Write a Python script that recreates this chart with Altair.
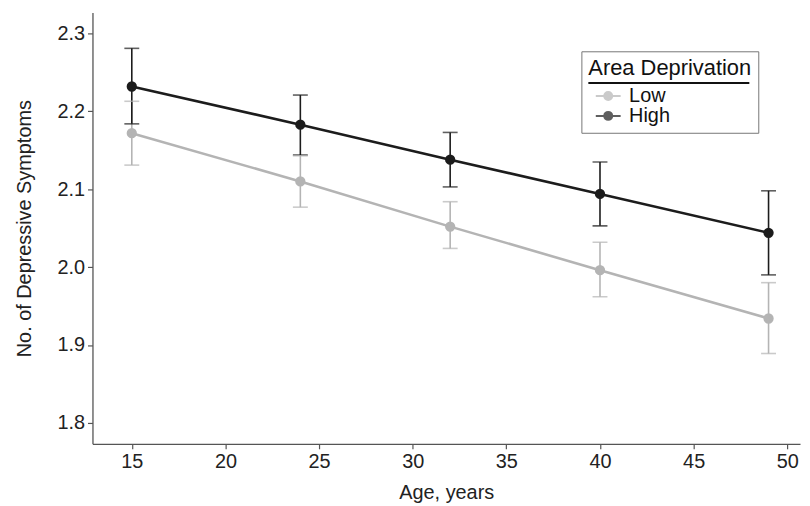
import altair as alt
import pandas as pd

ages = [15, 24, 32, 40, 49]
groups = ["Low", "High"]
low_mean = [2.172, 2.110, 2.052, 1.996, 1.934]
low_lower = [2.131, 2.077, 2.024, 1.962, 1.889]
low_upper = [2.213, 2.143, 2.084, 2.032, 1.980]
high_mean = [2.232, 2.183, 2.138, 2.094, 2.044]
high_lower = [2.184, 2.144, 2.103, 2.053, 1.990]
high_upper = [2.281, 2.221, 2.173, 2.135, 2.098]
colors = ["#b4b4b4", "#1c1c1c"]
x_ticks = [15, 20, 25, 30, 35, 40, 45, 50]
y_ticks = [1.8, 1.9, 2.0, 2.1, 2.2, 2.3]

rows = []
for g, m, lo, hi in [("Low", low_mean, low_lower, low_upper),
                     ("High", high_mean, high_lower, high_upper)]:
    for a, mv, lv, hv in zip(ages, m, lo, hi):
        rows.append({"age": a, "group": g, "mean": mv, "lower": lv, "upper": hv})
df = pd.DataFrame(rows)

FONT = "Liberation Sans"
xs = alt.Scale(domain=[12.9, 50.68], nice=False, zero=False)
ys = alt.Scale(domain=[1.773, 2.327], nice=False, zero=False)
cs = alt.Scale(domain=groups, range=colors)

X = alt.X("age:Q", scale=xs, title="Age, years",
          axis=alt.Axis(values=x_ticks, format="d"))
Y_AX = alt.Axis(values=y_ticks, format=".1f")

sym_path = "M-2.5,0H2.5M-0.8,0A0.8,0.8,0,1,1,0.8,0A0.8,0.8,0,1,1,-0.8,0Z"
leg = alt.Legend(
    title="Area Deprivation", orient="none", legendX=492, legendY=39,
    symbolType=sym_path, symbolSize=100, symbolStrokeWidth=2, symbolOpacity=1,
    symbolOffset=10, labelOffset=11,
)

base = alt.Chart(df)

points = base.mark_point(filled=True, size=70, opacity=1, strokeWidth=2).encode(
    x=X,
    y=alt.Y("mean:Q", scale=ys, title="No. of Depressive Symptoms", axis=Y_AX),
    color=alt.Color("group:N", scale=cs, sort=groups, legend=leg),
    stroke=alt.Stroke("group:N", scale=cs, sort=groups, legend=leg),
)
rules = base.mark_rule(strokeWidth=1.6).encode(
    x=X, y=alt.Y("lower:Q", scale=ys), y2="upper:Q",
    color=alt.Color("group:N", scale=cs, sort=groups),
)
ticks_lo = base.mark_tick(orient="horizontal", size=15, thickness=1.6).encode(
    x=X, y=alt.Y("lower:Q", scale=ys),
    color=alt.Color("group:N", scale=cs, sort=groups),
)
ticks_hi = base.mark_tick(orient="horizontal", size=15, thickness=1.6).encode(
    x=X, y=alt.Y("upper:Q", scale=ys),
    color=alt.Color("group:N", scale=cs, sort=groups),
)
lines = base.mark_line(strokeWidth=2.6).encode(
    x=X, y=alt.Y("mean:Q", scale=ys),
    color=alt.Color("group:N", scale=cs, sort=groups),
)
underline = alt.Chart(alt.Data(values=[{"a": 1}])).mark_rule(
    color="#111", strokeWidth=2
).encode(x=alt.value(499), x2=alt.value(661), y=alt.value(71))

chart = alt.layer(points, rules, ticks_lo, ticks_hi, lines, underline).properties(
    width=712, height=434,
    autosize=alt.AutoSizeParams(type="none"),
    padding={"left": 85, "top": 3, "right": 2, "bottom": 60},
    background="white",
).configure_view(stroke=None).configure_axis(
    grid=False, labelFont=FONT, titleFont=FONT, labelFontSize=20, titleFontSize=20,
    titleFontWeight="normal", labelColor="#222", titleColor="#222",
    domainColor="#555", tickColor="#555", domainWidth=1.3, tickWidth=1.2,
    tickSize=5, labelPadding=3,
).configure_axisY(titlePadding=23).configure_axisX(titlePadding=11).configure_legend(
    titleFont=FONT, labelFont=FONT, titleFontSize=22, labelFontSize=20,
    titleFontWeight="normal", titleColor="#111", labelColor="#111",
    strokeColor="#777", strokeWidth=1, padding=7,
    rowPadding=-3, titlePadding=6,
)

chart.save("out.html", embed_options={"renderer": "svg", "actions": False})
